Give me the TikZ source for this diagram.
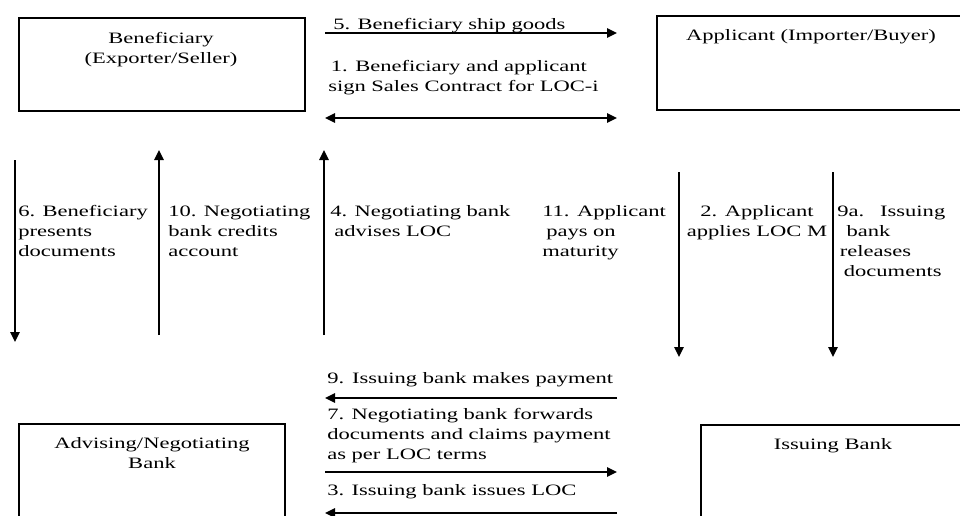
\documentclass[tikz,border=0pt]{standalone}
\usepackage{fontspec}
\setmainfont{Liberation Serif}[FakeStretch=1.42]
\usetikzlibrary{arrows.meta}
\newcommand\lblfont{\fontsize{11.9pt}{15pt}\selectfont}
\begin{document}
\begin{tikzpicture}[x=0.75pt,y=-0.75pt,
  box/.style={draw, line width=1.4pt, inner sep=0pt, anchor=north west},
  boxtxt/.style={inner sep=0pt, anchor=base, align=center, font=\lblfont},
  lbl/.style={inner sep=0pt, anchor=base west, align=left, font=\lblfont},
  lblc/.style={inner sep=0pt, anchor=base, align=center, font=\lblfont},
  tip/.tip={Triangle[length=7.5pt,width=7pt]},
  arr/.style={line width=1.2pt, -tip},
  darr/.style={line width=1.2pt, tip-tip}]
\useasboundingbox (0,0) rectangle (960,515);
% boxes
\node[box, minimum width=214.5pt, minimum height=69.75pt] (ben) at (18,17) {};
\node[box, minimum width=239.25pt, minimum height=70.5pt] (app) at (656,15) {};
\node[box, minimum width=199.5pt, minimum height=82.5pt] (adv) at (18,423) {};
\node[box, minimum width=210pt, minimum height=82.5pt] (iss) at (700,424) {};
% (base anchor of a multi-line node = baseline of its last line)
\node[boxtxt] (bentxt) at (161,63) {Beneficiary\\(Exporter/Seller)};
\node[boxtxt] (apptxt) at (811,40) {Applicant (Importer/Buyer)};
\node[boxtxt] (advtxt) at (152,468) {Advising/Negotiating\\Bank};
\node[boxtxt] (isstxt) at (833,449) {Issuing Bank};
% top horizontal arrows
\coordinate (a5s) at (325,33); \coordinate (a5e) at (617,33);
\draw[arr] (a5s) -- (a5e);
\node[lbl] (t5) at (333,29) {5. Beneficiary ship goods};
\node[lbl] (t1) at (328,91) {\hspace{2pt}1. Beneficiary and applicant\\sign Sales Contract for LOC-i};
\coordinate (a1s) at (325,118); \coordinate (a1e) at (617,118);
\draw[darr] (a1s) -- (a1e);
% vertical arrows
\coordinate (a6s) at (15,160); \coordinate (a6e) at (15,342);
\draw[arr] (a6s) -- (a6e);
\coordinate (a10s) at (159,335); \coordinate (a10e) at (159,150);
\draw[arr] (a10s) -- (a10e);
\coordinate (a4s) at (324,335); \coordinate (a4e) at (324,150);
\draw[arr] (a4s) -- (a4e);
\coordinate (a2s) at (679,172); \coordinate (a2e) at (679,357);
\draw[arr] (a2s) -- (a2e);
\coordinate (a9as) at (833,172); \coordinate (a9ae) at (833,357);
\draw[arr] (a9as) -- (a9ae);
\node[lbl] (t6) at (18,256) {6. Beneficiary\\presents\\documents};
\node[lbl] (t10) at (168,256) {10. Negotiating\\bank credits\\account};
\node[lbl] (t4) at (330,236) {4. Negotiating bank\\\hspace{3pt}advises LOC};
\node[lbl] (t11) at (542,256) {11. Applicant\\\hspace{3pt}pays on\\maturity};
\node[lblc] (t2) at (757,236) {2. Applicant\\applies LOC M};
\node[lbl] (t9a) at (837,276) {9a.\hspace{12pt}Issuing\\\hspace{7pt}bank\\\hspace{2pt}releases\\\hspace{5pt}documents};
% bottom horizontal arrows
\node[lbl] (t9) at (327,383) {9.\hspace{6pt}Issuing bank makes payment};
\coordinate (a9s) at (617,398); \coordinate (a9e) at (325,398);
\draw[arr] (a9s) -- (a9e);
\node[lbl] (t7) at (327,459) {7. Negotiating bank forwards\\documents and claims payment\\as per LOC terms};
\coordinate (a7s) at (325,472); \coordinate (a7e) at (617,472);
\draw[arr] (a7s) -- (a7e);
\node[lbl] (t3) at (327,495) {3. Issuing bank issues LOC};
\coordinate (a3s) at (617,513); \coordinate (a3e) at (325,513);
\draw[arr] (a3s) -- (a3e);
\end{tikzpicture}
\end{document}
